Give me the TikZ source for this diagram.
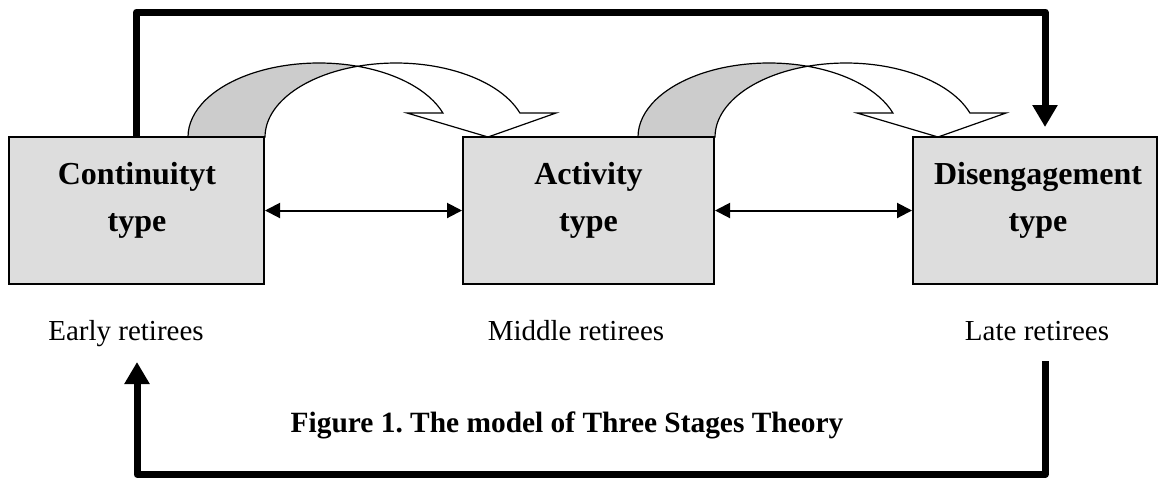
\documentclass[tikz,border=0pt]{standalone}
\usepackage{fontspec}
\setmainfont{Liberation Serif}
\usepackage{tikz}
\usetikzlibrary{arrows.meta}
\usepackage{xcolor}
\definecolor{boxgray}{RGB}{221,221,221}
\definecolor{ribbongray}{RGB}{204,204,204}
\frenchspacing

\begin{document}
\begin{tikzpicture}[x=0.5pt, y=-0.5pt, >={Triangle[length=7.5pt, width=7.5pt]}]
  \useasboundingbox (0,0) rectangle (1159,478);
  \tikzset{
    stage/.style={draw=black, line width=1pt, fill=boxgray, minimum height=73.5pt, inner sep=0pt},
    stagetext/.style={align=center, font=\fontsize{16}{23.5}\selectfont\bfseries},
    retiree/.style={anchor=base, font=\fontsize{14.5}{17}\selectfont},
    loopline/.style={line width=3.5pt, line join=round, -{Triangle[length=11pt, width=12pt]}},
    ribbonback/.style={draw=black, line width=0.6pt, fill=ribbongray},
    ribbonfront/.style={draw=black, line width=0.6pt, fill=white}
  }
  % curved ribbon arrows over the boxes
  \foreach \dx in {0,450} {
    \begin{scope}[shift={(\dx,0)}]
      \filldraw[ribbonback] (188,137)
        arc[start angle=180, end angle=72.9, x radius=65.5pt, y radius=37pt]
        arc[start angle=107.1, end angle=180, x radius=65.5pt, y radius=37pt] -- cycle;
      \filldraw[ribbonfront] (357.5,66.3)
        arc[start angle=107.1, end angle=18.9, x radius=65.5pt, y radius=37pt]
        -- (556,113) -- (488,137) -- (407,113) -- (442.9,113)
        arc[start angle=18.9, end angle=72.9, x radius=65.5pt, y radius=37pt] -- cycle;
    \end{scope}
  }
  % the three stages
  \node[stage, minimum width=127.5pt] (cont) at (136.5,210.5) {};
  \node[stage, minimum width=125.5pt] (act) at (588.5,210.5) {};
  \node[stage, minimum width=122pt] (dis) at (1035,210.5) {};
  \node[stagetext] (contlbl) at (137,200) {Continuityt\\type};
  \node[stagetext] (actlbl) at (588.5,200) {Activity\\type};
  \node[stagetext] (dislbl) at (1038,200) {Disengagement\\type};
  % links between stages
  \draw[<->, line width=1pt] (cont) -- (act);
  \draw[<->, line width=1pt] (act) -- (dis);
  % retiree groups
  \node[retiree] (early) at (126,340) {Early retirees};
  \node[retiree] (middle) at (576,340) {Middle retirees};
  \node[retiree] (late) at (1037,340) {Late retirees};
  % outer loop
  \coordinate (topin) at (1045,127);
  \coordinate (botout) at (1045,361);
  \coordinate (botin) at (137,362);
  \draw[loopline] (cont.north) -- ++(0,-124) -| (topin);
  \draw[loopline] (botout) -- ++(0,113.5) -| (botin);
  \node[anchor=base, font=\fontsize{14.7}{17}\selectfont\bfseries] (caption) at (567,432)
    {Figure 1. The model of Three Stages Theory};
\end{tikzpicture}
\end{document}
